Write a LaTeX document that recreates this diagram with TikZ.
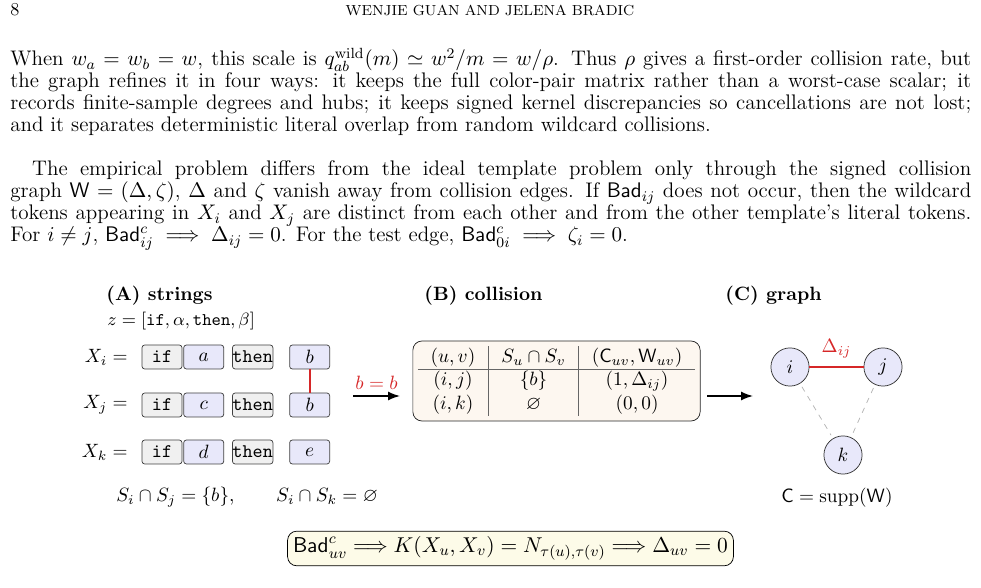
\RequirePackage{fix-cm}
\documentclass[tikz,border=0pt]{standalone}
\usepackage{amsmath,amssymb}
\usepackage{colortbl}
\usepackage{tikz}
\usetikzlibrary{arrows.meta,positioning}
\definecolor{edgered}{RGB}{214,39,40}
\definecolor{wildfill}{RGB}{232,232,250}
\definecolor{litfill}{RGB}{240,240,240}
\definecolor{tabfill}{RGB}{253,247,240}
\definecolor{badfill}{RGB}{253,251,232}
\newcommand{\Bad}{\mathsf{Bad}}
\newcommand{\figfont}{\fontsize{10.6}{12.7}\selectfont}

\begin{document}
\begin{tikzpicture}[
  x=0.55pt, y=-0.55pt,
  >=Latex,
  every node/.style={font=\figfont},
  tok/.style={draw=black!75, rounded corners=1.5pt, minimum width=22pt, minimum height=13.2pt, inner sep=0pt},
  lit/.style={tok, fill=litfill, font=\figfont\ttfamily},
  wild/.style={tok, fill=wildfill},
  gnode/.style={circle, draw=black!80, fill=wildfill, minimum size=21pt, inner sep=0pt},
  map/.style={->, thick},
  collide/.style={draw=edgered, line width=1pt},
  weak/.style={gray!60, dashed, shorten <=2pt, shorten >=2pt},
  panel/.style={font=\figfont\bfseries, anchor=west},
  para/.style={text width=528.5pt, align=justify, inner sep=0pt, anchor=base west, font=\fontsize{11.6}{12.1}\selectfont}
]
  \useasboundingbox (0,0) rectangle (981,588);

  % page head and running text
  \node[anchor=base west, inner sep=0pt, font=\fontsize{10}{12}\selectfont] (pageno) at (10,16) {8};
  \node[anchor=base, inner sep=0pt, font=\fontsize{8}{9}\selectfont] (runhead) at (490,16) {WENJIE GUAN AND JELENA BRADIC};
  \node[para] (par1) at (10,66) {When $w_a=w_b=w$, this scale is $q^{\mathrm{wild}}_{ab}(m)\simeq w^2/m=w/\rho$. Thus $\rho$ gives a first-order collision rate, but\linebreak
    the graph refines it in four ways: it keeps the full color-pair matrix rather than a worst-case scalar; it\linebreak
    records finite-sample degrees and hubs; it keeps signed kernel discrepancies so cancellations are not lost;\linebreak
    and it separates deterministic literal overlap from random wildcard collisions.};
  \node[para] (par2) at (10,176) {\hspace*{12pt}The empirical problem differs from the ideal template problem only through the signed collision\linebreak
    graph $\mathsf{W}=(\Delta,\zeta)$, $\Delta$ and $\zeta$ vanish away from collision edges. If $\Bad_{ij}$ does not occur, then the wildcard\linebreak
    tokens appearing in $X_i$ and $X_j$ are distinct from each other and from the other template's literal tokens.\linebreak
    For $i\neq j$, $\Bad^c_{ij}\implies\Delta_{ij}=0$. For the test edge, $\Bad^c_{0i}\implies\zeta_i=0$.};

  % (A) strings
  \node[panel] (headA) at (100,296) {(A) strings};
  \node[anchor=west, font=\fontsize{9.8}{12}\selectfont] (tmpl) at (101,321) {$z=[\texttt{if},\alpha,\texttt{then},\beta]$};
  \foreach \r/\y/\w/\e in {i/357/a/b, j/405/c/b, k/452/d/e} {
    \node[anchor=east, inner sep=0pt] (X-\r) at (128,\y) {$X_\r=$};
    \node[lit] (if-\r) at (162,\y) {if};
    \node[wild, right=0.55pt of if-\r] (w-\r) {$\w$};
    \node[lit, right=4.4pt of w-\r] (then-\r) {then};
    \node[wild, right=8.8pt of then-\r] (e-\r) {$\e$};
  }
  \draw[collide] (e-i.south) -- (e-j.north);
  \node[anchor=west] (overlap) at (110,497) {$S_i\cap S_j=\{b\},\qquad S_i\cap S_k=\varnothing$};

  \coordinate (ab-from) at (353,396);
  \coordinate (ab-to) at (400,396);
  \draw[map] (ab-from) -- node[above, text=edgered] {$b=b$} (ab-to);

  % (B) collision
  \node[panel] (headB) at (418,296) {(B) collision};
  \node[draw=black!85, rounded corners=5pt, fill=tabfill, minimum width=158pt, minimum height=44pt, inner sep=1pt] (tab) at (556.5,381) {%
    \arrayrulecolor{black!60}\setlength{\tabcolsep}{7pt}%
    \begin{tabular}{c|c|c}
      $(u,v)$ & $S_u\cap S_v$ & $(\mathsf{C}_{uv},\mathsf{W}_{uv})$\\ \hline
      $(i,j)$ & $\{b\}$ & $(1,\Delta_{ij})$\\
      $(i,k)$ & $\varnothing$ & $(0,0)$
    \end{tabular}};

  \coordinate (bc-from) at (707,396);
  \coordinate (bc-to) at (753,396);
  \draw[map] (bc-from) -- (bc-to);

  % (C) graph
  \node[panel] (headC) at (719,296) {(C) graph};
  \node[gnode] (gi) at (790,367) {$i$};
  \node[gnode] (gj) at (883,367) {$j$};
  \node[gnode] (gk) at (843,455) {$k$};
  \draw[collide] (gi) -- node[above=1pt, text=edgered] {$\Delta_{ij}$} (gj);
  \draw[weak] (gi) -- (gk);
  \draw[weak] (gj) -- (gk);
  \node (support) at (837,498) {$\mathsf{C}=\operatorname{supp}(\mathsf{W})$};

  \node[draw, rounded corners=5pt, fill=badfill, minimum height=19pt, inner sep=3pt, font=\fontsize{11.8}{14}\selectfont] (badbox) at (510.5,548.5)
    {$\Bad^c_{uv}\Longrightarrow K(X_u,X_v)=N_{\tau(u),\tau(v)}\Longrightarrow\Delta_{uv}=0$};
\end{tikzpicture}
\end{document}
